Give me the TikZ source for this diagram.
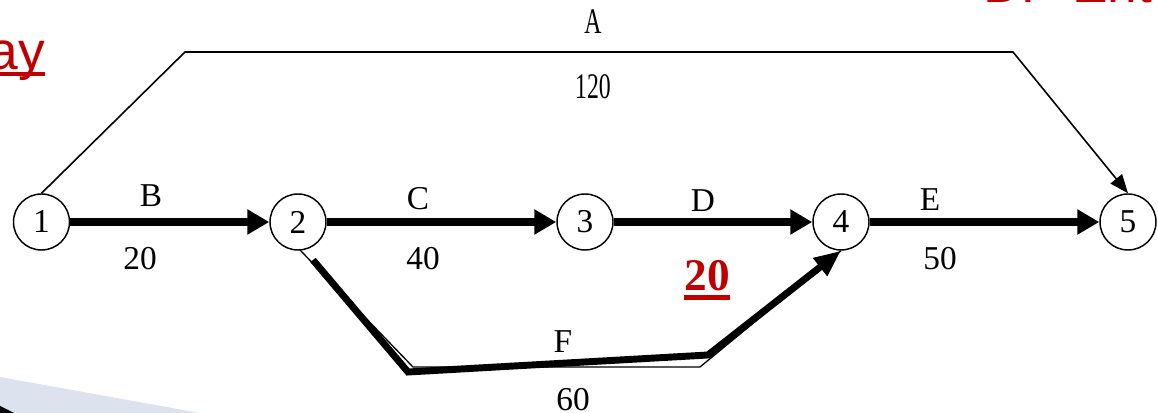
\documentclass[tikz,border=0pt]{standalone}
\usepackage{fontspec}
\setmainfont{Liberation Serif}
\newfontfamily\arialfont{Liberation Sans}
\usetikzlibrary{arrows.meta}
\definecolor{redtxt}{RGB}{192,0,0}
\definecolor{paleblue}{RGB}{220,227,239}
\begin{document}
\begin{tikzpicture}[x=0.75pt,y=-0.75pt,
  evnode/.style={circle,draw,line width=1.1pt,minimum size=42pt,inner sep=0pt,font=\fontsize{25}{30}\selectfont},
  lbl/.style={inner sep=0pt,font=\fontsize{25}{30}\selectfont},
  toplbl/.style={inner sep=0pt,font=\fontsize{27}{32}\selectfont},
  thickarrow/.style={line width=6pt,-{Triangle[length=16.5pt,width=18pt]}},
  thinarrow/.style={line width=1.2pt,-{Triangle[length=14pt,width=11pt]}},
  fthick/.style={line width=5.2pt,line join=miter,-{Triangle[length=20pt,width=16pt]}},
  fthin/.style={line width=1pt},
  redtitle/.style={inner sep=0pt,text=redtxt,font=\arialfont\fontsize{40}{48}\selectfont}]
\useasboundingbox (0,0) rectangle (1158,413);
\begin{scope}
\clip (0,0) rectangle (1158,413);
% background decorations
\fill[paleblue] (0,377) -- (200,413) -- (0,413) -- cycle;
\fill[black] (0,406) -- (14,413) -- (0,413) -- cycle;
\node[redtitle,anchor=base east] (ay) at (45,70) {ay};
\fill[redtxt] (0,72) rectangle (45,76);
\node[redtitle,anchor=base west] (ttl) at (983,3) {DP Ent};
% event nodes
\node[evnode] (n1) at (41.5,222) {1};
\node[evnode] (n2) at (298,222) {2};
\node[evnode] (n3) at (585,222) {3};
\node[evnode] (n4) at (841,222) {4};
\node[evnode] (n5) at (1128,222) {5};
% activity A
\coordinate (a1) at (185,52);
\coordinate (a2) at (1013,52);
\draw[thinarrow] (n1.north) -- (a1) -- (a2) -- (n5.north);
% main chain
\draw[thickarrow] (n1) -- (n2);
\draw[thickarrow] (n2) -- (n3);
\draw[thickarrow] (n3) -- (n4);
\draw[thickarrow] (n4) -- (n5);
% activity F
\coordinate (f0) at (300,250);
\coordinate (f1) at (413,367);
\coordinate (f2) at (700,367);
\draw[fthin] (f0) -- (f1) -- (f2) -- (n4.south);
\coordinate (g0) at (313,260);
\coordinate (g1) at (408,372);
\coordinate (g2) at (708,355);
\draw[fthick] (g0) -- (g1) -- (g2) -- (n4.south);
% labels
\node[toplbl] (la) at (593,22) {\scalebox{0.66}[1]{A}};
\node[toplbl] (la2) at (593,87) {\scalebox{0.66}[1]{120}};
\node[lbl] (lb) at (151,196) {B};
\node[lbl] (lb2) at (140,259) {20};
\node[lbl] (lc) at (418,199) {C};
\node[lbl] (lc2) at (423,259) {40};
\node[lbl] (ld) at (703,201) {D};
\node[lbl] (le) at (930,200) {E};
\node[lbl] (le2) at (940,259) {50};
\node[lbl] (lf) at (563,342) {F};
\node[lbl] (lf2) at (573,400) {60};
\node[inner sep=0pt,text=redtxt,font=\fontsize{34}{40}\selectfont\bfseries] (slack) at (707,276) {20};
\fill[redtxt] (684,295) rectangle (730,300);
\end{scope}
\end{tikzpicture}
\end{document}
